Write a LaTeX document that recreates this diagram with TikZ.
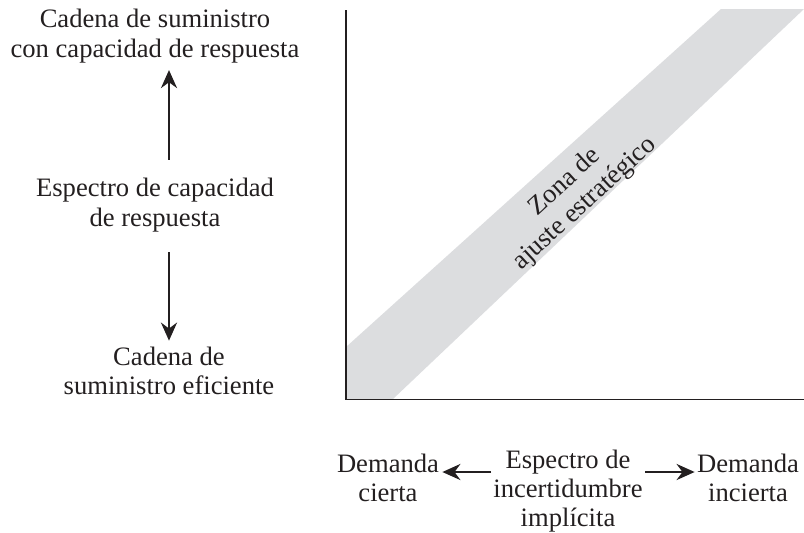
\documentclass[tikz,border=0pt]{standalone}
\usepackage{fontspec}
\setmainfont{Liberation Serif}
\usepackage{xcolor}
\usetikzlibrary{arrows.meta,positioning,calc}
\definecolor{bandgray}{RGB}{220,221,223}
\definecolor{inkblack}{RGB}{35,31,32}

\begin{document}
\begin{tikzpicture}[x=0.5pt, y=-0.5pt,
    lbl/.style={align=center, inner sep=0pt, text=inkblack,
                font=\fontsize{13.3}{14.6}\selectfont},
    arr/.style={-{Stealth[length=9pt, width=8pt]}, line width=1.3pt, draw=inkblack},
    axis/.style={line width=0.85pt, draw=inkblack},
  ]
  \useasboundingbox (0,0) rectangle (804,532);

  % Strategic fit band
  \fill[bandgray] (346,347) -- (721,9) -- (804,9) -- (393,399) -- (346,399) -- cycle;
  \node[lbl, rotate=42.5] (zona) at (575,193) {Zona de\\ajuste estratégico};

  % Axes
  \draw[axis] (346,10) -- (346,399.5) -- (812,399.5);

  % Responsiveness spectrum
  \node[lbl] (resp) at (155,36) {Cadena de suministro\\con capacidad de respuesta};
  \node[lbl] (esp) at (155,205) {Espectro de capacidad\\de respuesta};
  \node[lbl] (efic) at (169,371) {Cadena de\\suministro eficiente};

  \draw[arr, shorten <=9pt, shorten >=3.5pt] (esp.north -| efic) -- (resp.south -| efic);
  \draw[arr, shorten <=10pt, shorten >=3pt] (esp.south -| efic) -- (efic.north);

  % Implied uncertainty spectrum
  \node[lbl] (cierta) at (388,478) {Demanda\\cierta};
  \node[lbl] (incert) at (568,491) {Espectro de\\incertidumbre\\implícita};
  \node[lbl] (incierta) at (748,478) {Demanda\\incierta};

  \draw[arr, shorten <=1pt, shorten >=1.5pt] ([yshift=3pt]incert.west |- cierta.east) -- ([yshift=3pt]cierta.east);
  \draw[arr, shorten <=1pt, shorten >=1pt] ([yshift=3pt]incert.east |- incierta.west) -- ([yshift=3pt]incierta.west);

\end{tikzpicture}
\end{document}
